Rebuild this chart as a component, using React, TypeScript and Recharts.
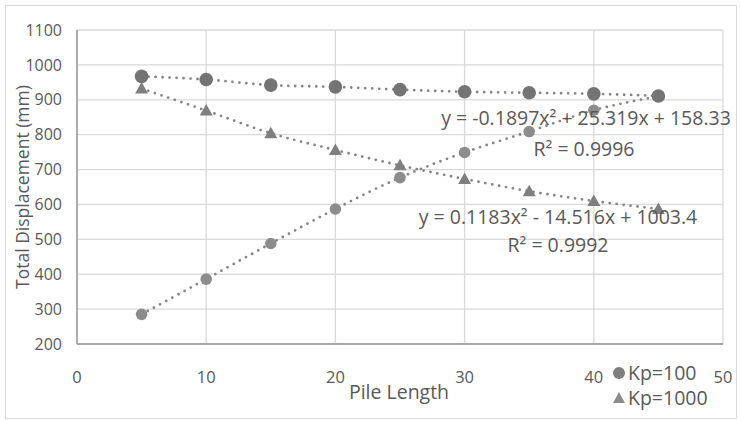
import { LineChart, Line, XAxis, YAxis, CartesianGrid } from 'recharts';

// pile length (x) and displacement readings (mm)
const pileLength = [5, 10, 15, 20, 25, 30, 35, 40, 45];
const kp100Upper = [967, 958, 942, 937, 929, 923, 920, 917, 911];
const kp100Rising = [285, 386, 488, 587, 677, 749, 809, 870, 910];
const kp1000 = [932, 869, 804, 756, 712, 673, 638, 610, 587];

const xTicks = [0, 10, 20, 30, 40, 50];
const yTicks = [200, 300, 400, 500, 600, 700, 800, 900, 1000, 1100];

const eqRising = 'y = -0.1897x² + 25.319x + 158.33';
const r2Rising = 'R² = 0.9996';
const eqKp1000 = 'y = 0.1183x² - 14.516x + 1003.4';
const r2Kp1000 = 'R² = 0.9992';

const toPoints = (ys: number[]) => pileLength.map((x, i) => ({ x, y: ys[i] }));

const FONT = '"Open Sans", sans-serif';
const TEXT = '#595959';

const TriangleDot = (props: any) => {
  const { cx, cy, index } = props;
  if (cx == null || cy == null) return <g key={`t-${index}`} />;
  return (
    <polygon
      key={`t-${index}`}
      points={`${cx},${cy - 6.5} ${cx - 6.5},${cy + 5} ${cx + 6.5},${cy + 5}`}
      fill="#7f7f7f"
    />
  );
};

const dotted = {
  stroke: '#858585',
  strokeWidth: 2.8,
  strokeDasharray: '0 7',
  strokeLinecap: 'round' as const,
};

export default function App() {
  return (
    <div style={{ position: 'absolute', left: 0, top: 0, width: 741, height: 421, background: '#fff' }}>
      <div
        style={{
          position: 'absolute',
          left: 5,
          top: 5,
          width: 730,
          height: 412,
          border: '1px solid #d9d9d9',
        }}
      />
      <LineChart width={741} height={421} margin={{ top: 30, right: 18, bottom: 0, left: 0 }}>
        <CartesianGrid stroke="#d9d9d9" strokeWidth={1.3} />
        <XAxis
          type="number"
          dataKey="x"
          domain={[0, 50]}
          ticks={xTicks}
          height={77}
          tickLine={false}
          tickSize={6}
          tickMargin={21}
          axisLine={{ stroke: '#a6a6a6', strokeWidth: 1.8 }}
          tick={{ fill: TEXT, fontSize: 16.5, fontFamily: FONT }}
        />
        <YAxis
          type="number"
          domain={[200, 1100]}
          ticks={yTicks}
          width={77}
          tickLine={false}
          tickSize={6}
          tickMargin={9}
          axisLine={{ stroke: '#a6a6a6', strokeWidth: 1.8 }}
          tick={{ fill: TEXT, fontSize: 16, fontFamily: FONT }}
        />
        <Line
          data={toPoints(kp1000)}
          dataKey="y"
          type="monotone"
          {...dotted}
          dot={TriangleDot}
          activeDot={false}
          isAnimationActive={false}
        />
        <Line
          data={toPoints(kp100Rising)}
          dataKey="y"
          type="monotone"
          {...dotted}
          dot={{ r: 5.8, fill: '#8c8c8c', stroke: 'none' }}
          activeDot={false}
          isAnimationActive={false}
        />
        <Line
          data={toPoints(kp100Upper)}
          dataKey="y"
          type="monotone"
          {...dotted}
          dot={{ r: 6.8, fill: '#747474', stroke: 'none' }}
          activeDot={false}
          isAnimationActive={false}
        />
      </LineChart>
      <svg
        width={741}
        height={421}
        style={{ position: 'absolute', left: 0, top: 0, pointerEvents: 'none' }}
        fontFamily={FONT}
        fill={TEXT}
      >
        <text x={586} y={125} fontSize={19.5} textAnchor="middle">{eqRising}</text>
        <text x={584} y={156} fontSize={19.5} textAnchor="middle">{r2Rising}</text>
        <text x={558} y={224} fontSize={19.5} textAnchor="middle">{eqKp1000}</text>
        <text x={558} y={252} fontSize={19.5} textAnchor="middle">{r2Kp1000}</text>
        <text x={399} y={399} fontSize={19.5} textAnchor="middle">Pile Length</text>
        <text
          x={0}
          y={0}
          fontSize={17.5}
          textAnchor="middle"
          transform="translate(29 187) rotate(-90)"
        >
          Total Displacement (mm)
        </text>
        <circle cx={619} cy={373} r={6} fill="#7f7f7f" />
        <text x={628} y={380} fontSize={19.5}>Kp=100</text>
        <polygon points="619,392 613,403 625,403" fill="#8c8c8c" />
        <text x={628} y={405} fontSize={19.5}>Kp=1000</text>
      </svg>
    </div>
  );
}
